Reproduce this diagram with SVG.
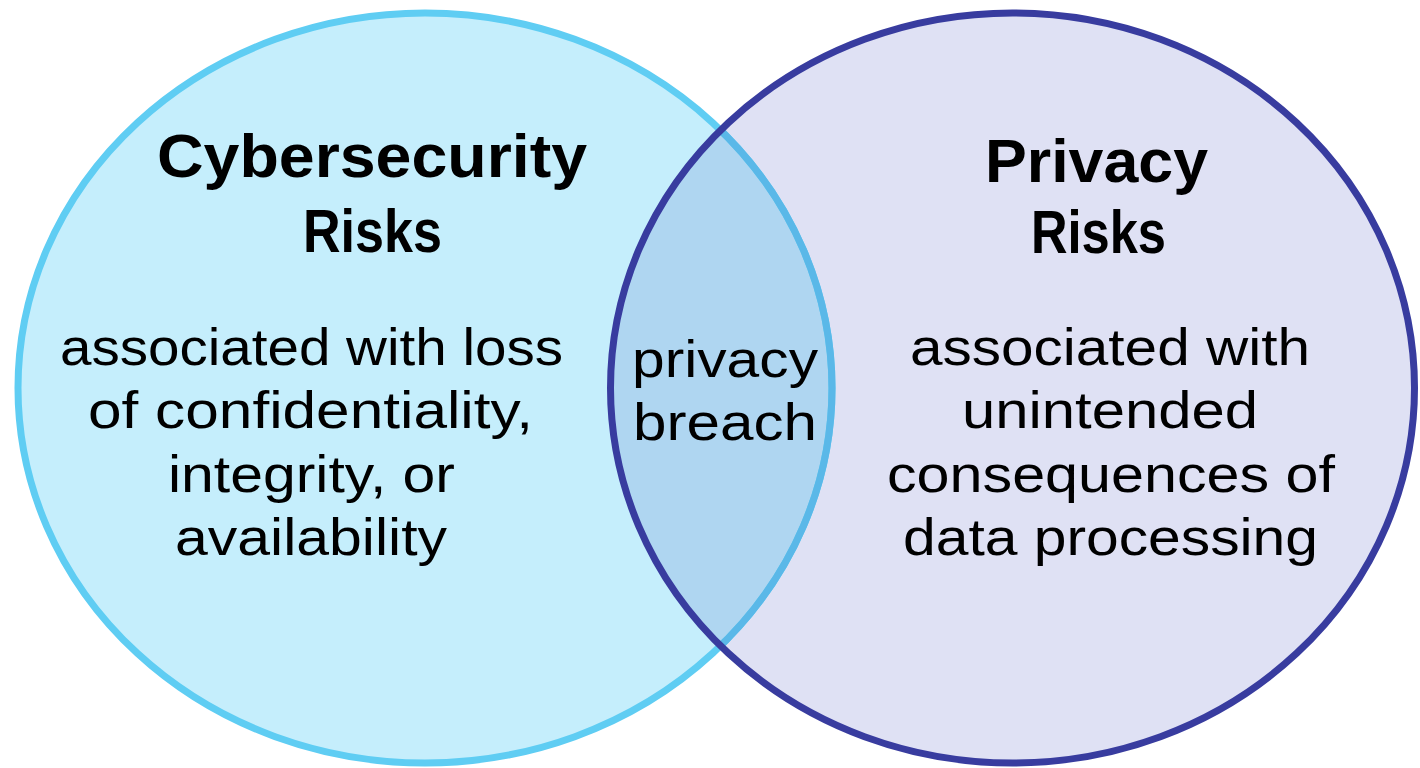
<svg xmlns="http://www.w3.org/2000/svg" width="1420" height="768" viewBox="0 0 1420 768">
  <style>
    .title { font-family: "Liberation Sans", Arial, sans-serif; font-weight: bold; font-size: 62px; fill: #000; text-anchor: middle; }
    .body { font-family: "Liberation Sans", Arial, sans-serif; font-size: 52px; fill: #000; text-anchor: middle; }
  </style>
  <defs>
    <ellipse id="leftShape" cx="425" cy="388" rx="407" ry="375"/>
    <ellipse id="rightShape" cx="1012.5" cy="388" rx="402" ry="375"/>
    <clipPath id="rightClip">
      <use href="#rightShape"/>
    </clipPath>
  </defs>
  <rect width="1420" height="768" fill="#ffffff"/>
  <g id="cybersecurity-risks">
    <use href="#leftShape" fill="#c5eefc"/>
  </g>
  <g id="privacy-risks">
    <use href="#rightShape" fill="#dfe1f4"/>
  </g>
  <g id="privacy-breach">
    <use href="#leftShape" fill="#afd6f1" clip-path="url(#rightClip)"/>
  </g>
  <g id="outlines">
    <use href="#leftShape" fill="none" stroke="#5fcdf3" stroke-width="7"/>
    <use href="#leftShape" fill="none" stroke="#5ab8e8" stroke-width="7" clip-path="url(#rightClip)"/>
    <use href="#rightShape" fill="none" stroke="#383c9f" stroke-width="7"/>
  </g>
  <g id="connectors"/>
  <g id="cybersecurity-text">
    <text class="title" x="372" y="177" textLength="430" lengthAdjust="spacingAndGlyphs">Cybersecurity</text>
    <text class="title" x="372.5" y="252" textLength="139" lengthAdjust="spacingAndGlyphs">Risks</text>
    <text class="body" x="311.5" y="365" textLength="503" lengthAdjust="spacingAndGlyphs">associated with loss</text>
    <text class="body" x="310.5" y="428" textLength="445" lengthAdjust="spacingAndGlyphs">of confidentiality,</text>
    <text class="body" x="311.5" y="492" textLength="287" lengthAdjust="spacingAndGlyphs">integrity, or</text>
    <text class="body" x="311" y="555" textLength="272" lengthAdjust="spacingAndGlyphs">availability</text>
  </g>
  <g id="privacy-text">
    <text class="title" x="1096.5" y="182" textLength="223" lengthAdjust="spacingAndGlyphs">Privacy</text>
    <text class="title" x="1098.5" y="253" textLength="135" lengthAdjust="spacingAndGlyphs">Risks</text>
    <text class="body" x="1110" y="365" textLength="400" lengthAdjust="spacingAndGlyphs">associated with</text>
    <text class="body" x="1110" y="428" textLength="296" lengthAdjust="spacingAndGlyphs">unintended</text>
    <text class="body" x="1111" y="492" textLength="448" lengthAdjust="spacingAndGlyphs">consequences of</text>
    <text class="body" x="1110.5" y="555" textLength="415" lengthAdjust="spacingAndGlyphs">data processing</text>
  </g>
  <g id="breach-text">
    <text class="body" x="725" y="377" textLength="186" lengthAdjust="spacingAndGlyphs">privacy</text>
    <text class="body" x="725" y="440" textLength="184" lengthAdjust="spacingAndGlyphs">breach</text>
  </g>
</svg>
